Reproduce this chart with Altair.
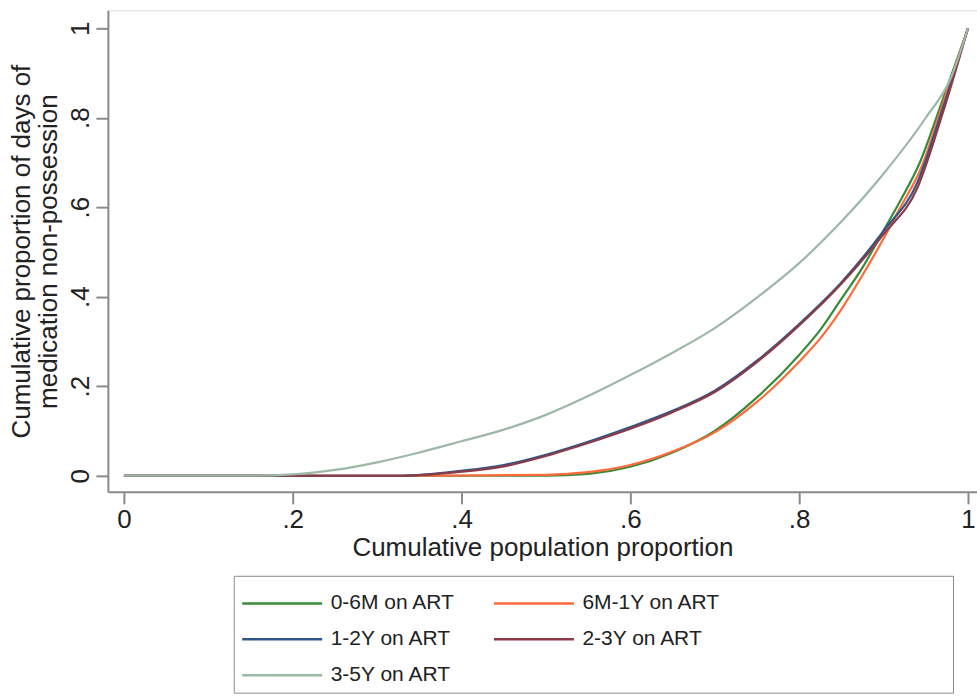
import altair as alt
import pandas as pd

# ---- data ----
series = ["0-6M on ART", "6M-1Y on ART", "1-2Y on ART", "2-3Y on ART", "3-5Y on ART"]
colors = ["#3a8a3a", "#ff6a3a", "#2f5686", "#8c3a48", "#9bb8a8"]

x_0_6m = [0, 0.5, 0.55, 0.6, 0.65, 0.7, 0.75, 0.8, 0.825, 0.85, 0.875, 0.9, 0.92, 0.943, 0.97, 1]
y_0_6m = [0, 0, 0.004, 0.02, 0.052, 0.1, 0.175, 0.27, 0.326, 0.395, 0.465, 0.548, 0.615, 0.70, 0.84, 1]

x_6m_1y = [0, 0.36, 0.5, 0.55, 0.6, 0.65, 0.7, 0.75, 0.8, 0.825, 0.85, 0.875, 0.9, 0.92, 0.945, 0.97, 1]
y_6m_1y = [0, 0, 0.002, 0.008, 0.024, 0.054, 0.097, 0.165, 0.255, 0.307, 0.372, 0.448, 0.53, 0.6, 0.69, 0.83, 1]

x_1_2y = [0, 0.33, 0.4, 0.45, 0.5, 0.55, 0.6, 0.65, 0.7, 0.75, 0.8, 0.85, 0.9, 0.94, 0.97, 1]
y_1_2y = [0, 0, 0.011, 0.024, 0.047, 0.076, 0.109, 0.145, 0.19, 0.257, 0.339, 0.432, 0.547, 0.655, 0.82, 1]

x_2_3y = [0, 0.33, 0.4, 0.45, 0.5, 0.55, 0.6, 0.65, 0.7, 0.75, 0.8, 0.85, 0.9, 0.94, 0.97, 1]
y_2_3y = [0, 0, 0.009, 0.021, 0.044, 0.073, 0.105, 0.142, 0.187, 0.254, 0.336, 0.429, 0.54, 0.643, 0.81, 1]

x_3_5y = [0, 0.15, 0.2, 0.25, 0.3, 0.35, 0.4, 0.45, 0.5, 0.55, 0.6, 0.65, 0.7, 0.75, 0.8, 0.85, 0.9, 0.95, 0.98, 1]
y_3_5y = [0, 0, 0.003, 0.013, 0.03, 0.052, 0.077, 0.103, 0.136, 0.178, 0.225, 0.275, 0.33, 0.398, 0.475, 0.568, 0.675, 0.80, 0.89, 1]

x_ticks = [0, 0.2, 0.4, 0.6, 0.8, 1]
y_ticks = [0, 0.2, 0.4, 0.6, 0.8, 1]

# ---- build table ----
rows = []
for name, xs, ys in zip(series,
                        [x_0_6m, x_6m_1y, x_1_2y, x_2_3y, x_3_5y],
                        [y_0_6m, y_6m_1y, y_1_2y, y_2_3y, y_3_5y]):
    for i, (a, b) in enumerate(zip(xs, ys)):
        rows.append({"series": name, "x": a, "y": b, "i": i})
df = pd.DataFrame(rows)

FONT = "Liberation Sans, Arial, Helvetica, sans-serif"
GRAY = "#8a8a8a"
NBSP = "\u00a0"
BLANK = "\u2800"
tick_fmt = "datum.value == 0 ? '0' : datum.value == 1 ? '1' : replace(format(datum.value, '.1f'), '0.', '.')"
pad_labels = ("indexof(['6M-1Y on ART', '2-3Y on ART'], datum.value) >= 0 ? "
              "datum.label + '" + NBSP * 36 + BLANK + "' : datum.label")

chart = alt.Chart(df).mark_line(strokeWidth=2.2, interpolate="monotone").encode(
    x=alt.X("x:Q",
            scale=alt.Scale(domain=[-0.019, 1.0107], nice=False, zero=False),
            axis=alt.Axis(values=x_ticks, labelExpr=tick_fmt, grid=False,
                          title="Cumulative population proportion",
                          tickSize=12, tickWidth=2, tickColor=GRAY,
                          domainColor=GRAY, domainWidth=2,
                          labelFontSize=26, labelFont=FONT, labelColor="#222",
                          labelPadding=3, titleFontSize=26, titleFont=FONT,
                          titleFontWeight="normal", titleColor="#222", titlePadding=2)),
    y=alt.Y("y:Q",
            scale=alt.Scale(domain=[-0.036, 1.040], nice=False, zero=False),
            axis=alt.Axis(values=y_ticks, labelExpr=tick_fmt, grid=False,
                          title=["Cumulative proportion of days of", "medication non-possession"],
                          tickSize=12, tickWidth=2, tickColor=GRAY,
                          domainColor=GRAY, domainWidth=2,
                          labelAngle=270, labelAlign="center", labelBaseline="alphabetic",
                          labelFontSize=26, labelFont=FONT, labelColor="#222",
                          labelPadding=7, titleFontSize=26, titleFont=FONT,
                          titleFontWeight="normal", titleColor="#222",
                          titlePadding=6, titleLineHeight=27)),
    color=alt.Color("series:N",
                    scale=alt.Scale(domain=series, range=colors),
                    legend=alt.Legend(orient="none", legendX=126, legendY=566,
                                      columns=2, direction="horizontal",
                                      title=NBSP, titleFontSize=2, titlePadding=7,
                                      symbolType="M-1,0H7", symbolSize=400,
                                      symbolStrokeWidth=2.5,
                                      labelFontSize=21, labelFont=FONT, labelColor="#222",
                                      labelLimit=800, labelExpr=pad_labels,
                                      labelOffset=67, columnPadding=33, rowPadding=14,
                                      padding=7, strokeColor=GRAY)),
    order="i:Q",
    detail="series:N",
).properties(
    width=870, height=482,
    autosize=alt.AutoSizeParams(type="none"),
    padding={"left": 108, "top": 10, "right": 0, "bottom": 206},
).configure_view(stroke=GRAY, strokeWidth=2).configure(background="white")

chart.save("out.html", embed_options={"renderer": "svg", "actions": False})
